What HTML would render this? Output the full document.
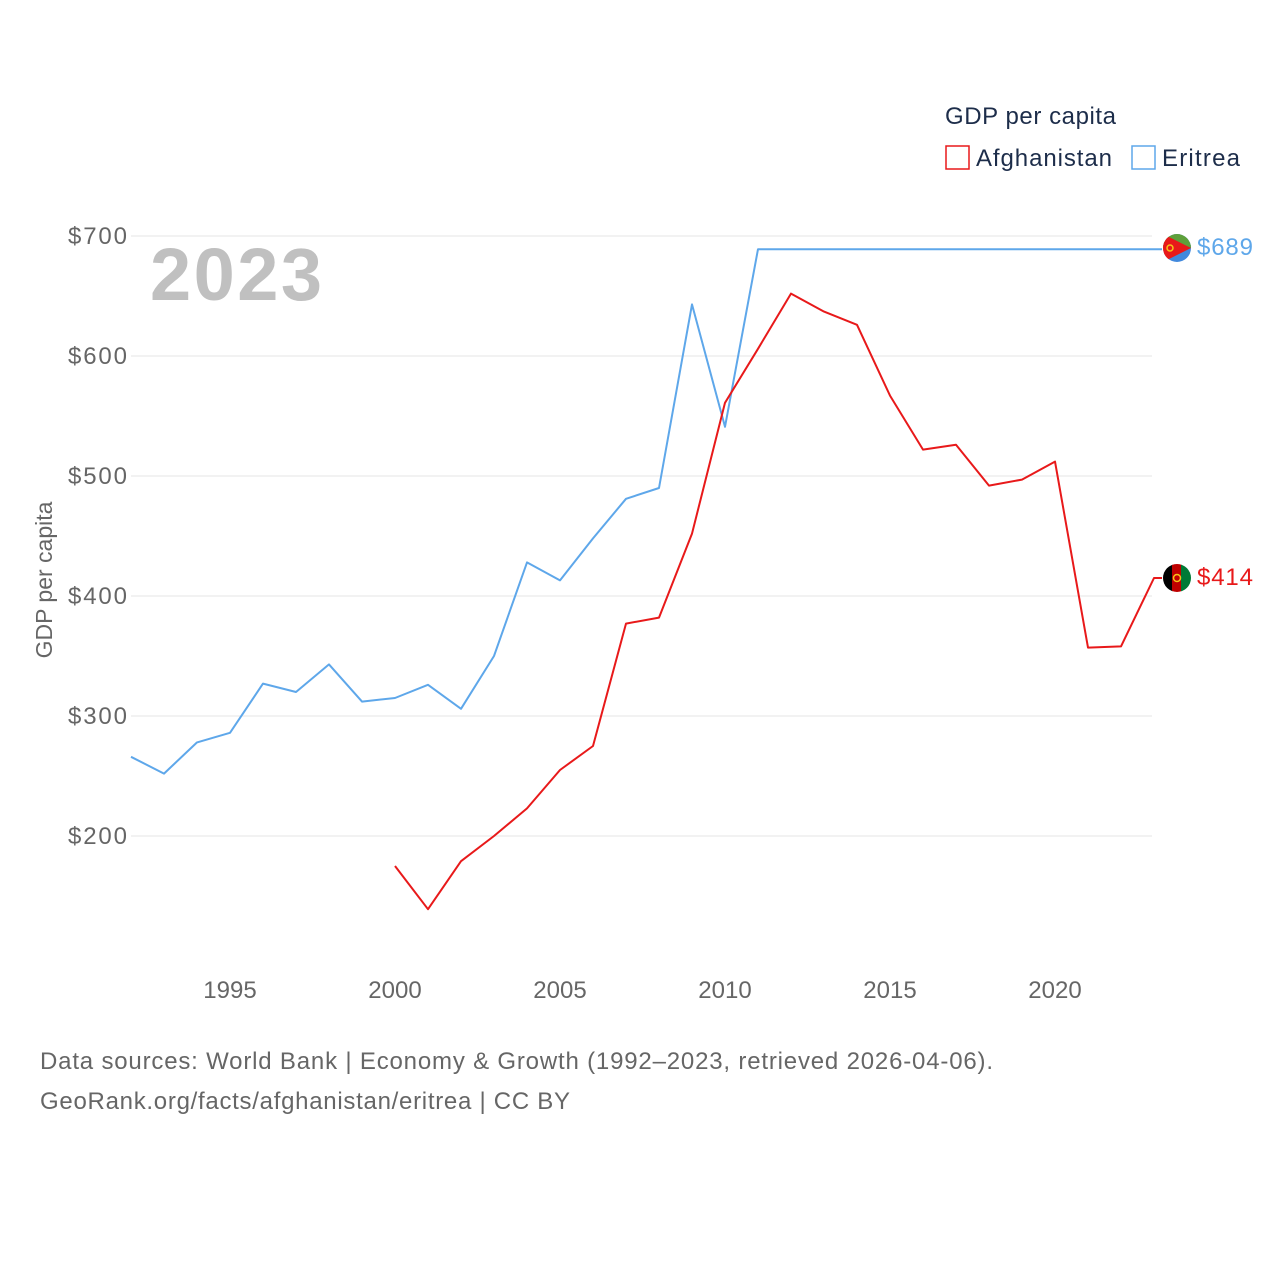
<!DOCTYPE html>
<html><head><meta charset="utf-8"><style>
body{margin:0;background:#fff;}
svg{display:block;font-family:"Liberation Sans",sans-serif;}
</style></head><body>
<svg width="1280" height="1280" viewBox="0 0 1280 1280">
<g id="grid"></g>
<g id="yt"></g>
<g id="xt"></g>
<text x="52" y="580" transform="rotate(-90 52 580)" text-anchor="middle" font-size="23" fill="#666">GDP per capita</text>
<text x="150" y="300" font-size="74" font-weight="bold" fill="#c0c0c0" textLength="172">2023</text>
<g>
<text x="945" y="124" font-size="24" fill="#1d2d4a" textLength="171">GDP per capita</text>
<g><rect x="946" y="146" width="23" height="23" fill="none" stroke="#e8191a" stroke-width="1.5"/><text x="976" y="166" font-size="24" fill="#1d2d4a" textLength="136">Afghanistan</text></g>
<g><rect x="1132" y="146" width="23" height="23" fill="none" stroke="#5ea7ea" stroke-width="1.5"/><text x="1162" y="166" font-size="24" fill="#1d2d4a" textLength="78">Eritrea</text></g>
</g>
<g id="series"></g>
<g><clipPath id="ce"><circle cx="1177" cy="248" r="14"/></clipPath><g clip-path="url(#ce)"><rect x="1163" y="234" width="28" height="28" fill="#4189dd"/><rect x="1163" y="234" width="28" height="14" fill="#5ea03a"/><path d="M1163 234 L1191 248 L1163 262Z" fill="#e8191a"/></g><circle cx="1170" cy="248" r="3" fill="none" stroke="#f5c518" stroke-width="1.5"/></g>
<g><clipPath id="cf"><circle cx="1177" cy="578" r="14"/></clipPath><g clip-path="url(#cf)"><rect x="1163" y="564" width="10" height="28" fill="#000"/><rect x="1172" y="564" width="10" height="28" fill="#be0000"/><rect x="1181" y="564" width="10" height="28" fill="#007a36"/></g><circle cx="1177" cy="578" r="3.5" fill="none" stroke="#f5c518" stroke-width="1.5"/></g>
<text x="1197" y="255" font-size="24" fill="#5ea7ea" textLength="56">$689</text>
<text x="1197" y="585" font-size="24" fill="#e8191a" textLength="56">$414</text>
<text x="40" y="1069" font-size="24" fill="#666" textLength="953">Data sources: World Bank | Economy &amp; Growth (1992–2023, retrieved 2026-04-06).</text>
<text x="40" y="1109" font-size="24" fill="#666" textLength="530">GeoRank.org/facts/afghanistan/eritrea | CC BY</text>
</svg>
<script>
const yTicks=[200,300,400,500,600,700];
const xTicks=[1995,2000,2005,2010,2015,2020];
const eriYears=[1992,1993,1994,1995,1996,1997,1998,1999,2000,2001,2002,2003,2004,2005,2006,2007,2008,2009,2010,2011,2012,2013,2014,2015,2016,2017,2018,2019,2020,2021,2022,2023];
const eriValues=[266,252,278,286,327,320,343,312,315,326,306,350,428,413,448,481,490,643,541,689,689,689,689,689,689,689,689,689,689,689,689,689];
const afgYears=[2000,2001,2002,2003,2004,2005,2006,2007,2008,2009,2010,2011,2012,2013,2014,2015,2016,2017,2018,2019,2020,2021,2022,2023];
const afgValues=[175,139,179,200,223,255,275,377,382,452,561,606,652,637,626,567,522,526,492,497,512,357,358,415];
const NS='http://www.w3.org/2000/svg';
const X=yr=>230+(yr-1995)*33;
const Y=v=>236+(700-v)*1.2;
function mk(t,a,p){const e=document.createElementNS(NS,t);for(const k in a)e.setAttribute(k,a[k]);p.appendChild(e);return e;}
const grid=document.getElementById('grid'),yt=document.getElementById('yt'),xt=document.getElementById('xt'),ser=document.getElementById('series');
yTicks.forEach(v=>{
 const l=mk('line',{x1:131,x2:1152,y1:Y(v),y2:Y(v),stroke:'#e6e6e6','stroke-width':1},grid);
 
 
 const t=mk('text',{x:127,y:Y(v)+8,'text-anchor':'end','font-size':24,fill:'#666',textLength:59},yt);
 t.textContent='$'+v;
 
 
});
xTicks.forEach(yr=>{
 const t=mk('text',{x:X(yr),y:998,'text-anchor':'middle','font-size':24,fill:'#666'},xt);
 t.textContent=yr;
 
 
});
function line(years,vals,col,name){
 let d=years.map((y,i)=>(i?'L':'M')+X(y)+' '+Y(vals[i])).join(' ');
 d+=' L'+(X(years[years.length-1])+8)+' '+Y(vals[vals.length-1]);
 const p=mk('path',{d:d,fill:'none',stroke:col,'stroke-width':2,'stroke-linejoin':'round'},ser);
 
 
}
line(eriYears,eriValues,'#5ea7ea','eritrea-line');
line(afgYears,afgValues,'#e8191a','afghanistan-line');
</script>
</body></html>
